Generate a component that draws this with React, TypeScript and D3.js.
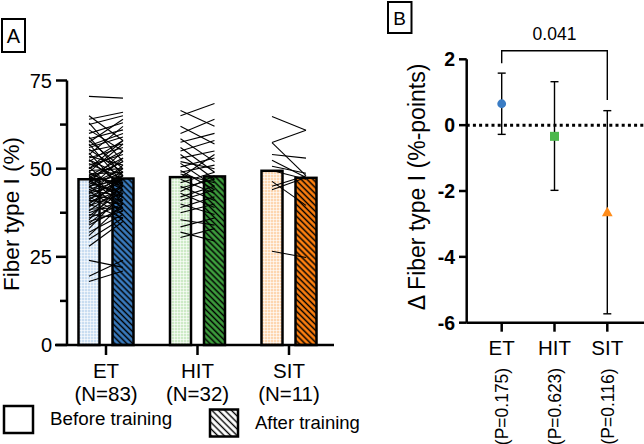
import React from "react";
import * as d3 from "d3";

// ---------- Data ----------
const groups = ["ET", "HIT", "SIT"];
const groupN = ["(N=83)", "(N=32)", "(N=11)"];
const pLabels = ["(P=0.175)", "(P=0.623)", "(P=0.116)"];
const beforeMeans = [47.0, 47.6, 49.4];
const afterMeans = [47.2, 47.8, 47.4];

const etBefore = [70.5, 65, 64, 63, 62.5, 61, 60, 59, 58.5, 58, 57.5, 57, 56, 55.5, 55, 54.5, 54, 53.5, 53, 52.5, 52, 51.5, 51, 50.5, 50, 49.5, 49, 49, 48.5, 48, 48, 47.5, 47, 47, 46.5, 46, 46, 45.5, 45, 45, 44.5, 44, 44, 43.5, 43, 43, 42.5, 42, 42, 41.5, 41, 41, 40.5, 40, 40, 39.5, 39, 38.5, 38, 37.5, 37, 36.5, 36, 35.5, 35, 34.5, 34, 33, 32, 31, 30, 28, 24, 19.5, 18, 56.5, 52.5, 50, 48.5, 47.5, 46.5, 45, 43.5];
const etAfter = [70, 58, 66, 52, 65, 55, 63, 48, 61, 50, 64, 46, 59, 49, 57, 44, 62, 51, 56, 45, 58, 47, 54, 42, 55, 50, 44, 57, 49, 41, 53, 46, 52, 40, 48, 55, 43, 50, 39, 47, 53, 42, 48, 38, 46, 51, 41, 47, 37, 45, 49, 40, 44, 36, 47, 43, 48, 39, 45, 41, 36, 44, 40, 46, 38, 42, 39, 43, 37, 40, 36, 35, 22, 24, 21, 60, 48, 58, 45, 52, 42, 49, 47];
const hitBefore = [66.5, 65, 62, 60, 58.5, 57.5, 56, 55, 54, 53, 52, 51.5, 50.5, 49.5, 49, 48.5, 47.5, 47, 46, 45, 44.5, 43.5, 43, 42, 41, 40, 39, 37.5, 35.5, 33.5, 32, 30.5];
const hitAfter = [62, 68.5, 57, 64, 52, 60, 49, 58, 47, 55, 50, 45, 53, 44, 51, 46, 54, 43, 49, 41, 47, 48, 39, 45, 44, 37, 42, 40, 34, 36, 29.5, 33];
const sitBefore = [64.8, 57.4, 57.4, 54, 52.4, 50.7, 49.5, 46.4, 45, 44, 26.6];
const sitAfter = [60.9, 60.9, 48, 53, 47.5, 48.7, 47, 39.6, 48, 47.5, 24.8];

const deltaMean = [0.65, -0.34, -2.67];
const deltaLow = [-0.28, -1.98, -5.73];
const deltaHigh = [1.58, 1.32, 0.44];
const pComparison = "0.041";

const yTicksA = [0, 12.5, 25, 37.5, 50, 62.5, 75];
const yTickLabelsA = [0, 25, 50, 75];
const yTicksB = [-6, -4, -2, 0, 2];

const lightColors = ["#c9ddf1", "#cdeac6", "#fdd6b0"];
const darkColors = ["#3a7cc0", "#3d9e3d", "#ff8010"];
const markerColors = ["#3a7cc4", "#4cb84c", "#ff8c1a"];

const FONT = "'Liberation Sans', Arial, sans-serif";

export default function App() {
  // Panel A scales
  const yA = d3.scaleLinear().domain([0, 75]).range([345, 80.5]);
  const xA = d3.scalePoint<string>().domain(groups).range([106, 289]);
  const off = 17;
  const bw = 21;
  const pairs = [
    [etBefore, etAfter],
    [hitBefore, hitAfter],
    [sitBefore, sitAfter],
  ];

  // Panel B scales
  const yB = d3.scaleLinear().domain([-6, 2]).range([322.7, 59.3]);
  const xB = d3.scalePoint<string>().domain(groups).range([501.7, 607.3]);

  const tri = d3.symbol().type(d3.symbolTriangle).size(50)();

  return (
    <svg width={644} height={444} style={{ position: "absolute", left: 0, top: 0, background: "#fff" }} fontFamily={FONT}>
      <defs>
        {groups.map((g, i) => (
          <pattern key={"b" + g} id={"before" + g} width={3} height={3} patternUnits="userSpaceOnUse">
            <rect width={3} height={3} fill={lightColors[i]} />
            <path d="M0,0.5H3M0.5,0V3" stroke="#fff" strokeWidth={0.8} strokeOpacity={0.75} />
          </pattern>
        ))}
        {groups.map((g, i) => (
          <pattern key={"a" + g} id={"after" + g} width={4.2} height={4.2} patternUnits="userSpaceOnUse" patternTransform="rotate(-45)">
            <rect width={4.2} height={4.2} fill={darkColors[i]} />
            <line x1={2.1} y1={0} x2={2.1} y2={4.2} stroke="#000" strokeWidth={1.5} />
          </pattern>
        ))}
        <pattern id="legendAfter" width={4.6} height={4.6} patternUnits="userSpaceOnUse" patternTransform="rotate(-45)">
          <rect width={4.6} height={4.6} fill="#fff" />
          <line x1={2.3} y1={0} x2={2.3} y2={4.6} stroke="#000" strokeWidth={1.4} />
        </pattern>
      </defs>

      {/* Panel labels */}
      <rect x={2} y={19} width={23} height={33} fill="none" stroke="#000" strokeWidth={2} />
      <text x={13.5} y={42.5} fontSize={20} textAnchor="middle">A</text>
      <rect x={388} y={2} width={23.5} height={31} fill="none" stroke="#000" strokeWidth={2} />
      <text x={399.7} y={25} fontSize={19} textAnchor="middle">B</text>

      {/* ---------- Panel A ---------- */}
      {groups.map((g, i) => {
        const cx = xA(g)!;
        return (
          <g key={"bars" + g}>
            <rect x={cx - off - bw / 2} y={yA(beforeMeans[i])} width={bw} height={yA(0) - yA(beforeMeans[i])} fill={`url(#before${g})`} stroke="#000" strokeWidth={2.5} />
            <rect x={cx + off - bw / 2} y={yA(afterMeans[i])} width={bw} height={yA(0) - yA(afterMeans[i])} fill={`url(#after${g})`} stroke="#000" strokeWidth={2.5} />
          </g>
        );
      })}
      {groups.map((g, i) => {
        const cx = xA(g)!;
        const [b, a] = pairs[i];
        return (
          <g key={"lines" + g}>
            {b.map((v, j) => (
              <line key={j} x1={cx - off} y1={yA(v)} x2={cx + off} y2={yA(a[j])} stroke="#000" strokeWidth={1.1} />
            ))}
          </g>
        );
      })}
      {/* Axes A */}
      <line x1={67} y1={yA(75)} x2={67} y2={yA(0)} stroke="#000" strokeWidth={2.5} />
      {yTicksA.map((t) => {
        const major = yTickLabelsA.includes(t);
        return <line key={t} x1={major ? 56 : 60} x2={67} y1={yA(t)} y2={yA(t)} stroke="#000" strokeWidth={2.5} />;
      })}
      {yTickLabelsA.map((t) => (
        <text key={t} x={52} y={yA(t)} dy="0.36em" fontSize={20} textAnchor="end">{t}</text>
      ))}
      <line x1={55} y1={yA(0)} x2={334} y2={yA(0)} stroke="#000" strokeWidth={2.5} />
      {groups.map((g, i) => (
        <g key={"xa" + g}>
          <line x1={xA(g)!} x2={xA(g)!} y1={yA(0)} y2={yA(0) + 10} stroke="#000" strokeWidth={2.5} />
          <text x={xA(g)!} y={377.5} fontSize={20.5} textAnchor="middle">{g}</text>
          <text x={xA(g)!} y={400.5} fontSize={20.5} textAnchor="middle">{groupN[i]}</text>
        </g>
      ))}
      <text transform="translate(18.5,214) rotate(-90)" fontSize={22.5} textAnchor="middle">Fiber type I (%)</text>

      {/* Legend */}
      <rect x={4} y={406} width={29} height={27} fill="#fff" stroke="#000" strokeWidth={2.5} />
      <text x={50} y={425} fontSize={18.8}>Before training</text>
      <rect x={210} y={409.5} width={28} height={27} fill="url(#legendAfter)" stroke="#000" strokeWidth={2.5} />
      <text x={255} y={429} fontSize={18.5}>After training</text>

      {/* ---------- Panel B ---------- */}
      <line x1={466.7} x2={644} y1={yB(0)} y2={yB(0)} stroke="#000" strokeWidth={3} strokeDasharray="3 3.2" />
      <line x1={466.7} y1={yB(2)} x2={466.7} y2={yB(-6)} stroke="#000" strokeWidth={2.5} />
      {yTicksB.map((t) => (
        <g key={t}>
          <line x1={459} x2={466.7} y1={yB(t)} y2={yB(t)} stroke="#000" strokeWidth={2.5} />
          <text x={455} y={yB(t)} dy="0.36em" fontSize={19.5} fontWeight="bold" textAnchor="end">{t === 0 ? "0" : t < 0 ? "-" + Math.abs(t) : String(t)}</text>
        </g>
      ))}
      <line x1={466.7} x2={644} y1={yB(-6)} y2={yB(-6)} stroke="#000" strokeWidth={2.5} />
      {groups.map((g, i) => (
        <g key={"xb" + g}>
          <line x1={xB(g)!} x2={xB(g)!} y1={yB(-6)} y2={yB(-6) + 9} stroke="#000" strokeWidth={2.5} />
          <text x={xB(g)!} y={354.5} fontSize={20.5} textAnchor="middle">{g}</text>
          <text transform={`translate(${xB(g)! + 6.5},406.5) rotate(-90)`} fontSize={17.5} textAnchor="middle">{pLabels[i]}</text>
        </g>
      ))}
      {groups.map((g, i) => {
        const cx = xB(g)!;
        return (
          <g key={"err" + g}>
            <line x1={cx} x2={cx} y1={yB(deltaHigh[i])} y2={yB(deltaLow[i])} stroke="#000" strokeWidth={1.4} />
            <line x1={cx - 4} x2={cx + 4} y1={yB(deltaHigh[i])} y2={yB(deltaHigh[i])} stroke="#000" strokeWidth={1.4} />
            <line x1={cx - 4} x2={cx + 4} y1={yB(deltaLow[i])} y2={yB(deltaLow[i])} stroke="#000" strokeWidth={1.4} />
          </g>
        );
      })}
      <circle cx={xB("ET")!} cy={yB(deltaMean[0])} r={4.4} fill={markerColors[0]} />
      <rect x={xB("HIT")! - 4.5} y={yB(deltaMean[1]) - 4.5} width={9} height={9} fill={markerColors[1]} />
      <path d={tri!} transform={`translate(${xB("SIT")!},${yB(deltaMean[2])})`} fill={markerColors[2]} />

      {/* Comparison bracket */}
      <path d={`M${xB("ET")!},63.3V50.7H${xB("SIT")!}V100`} fill="none" stroke="#000" strokeWidth={1.4} />
      <text x={(xB("ET")! + xB("SIT")!) / 2} y={39.5} fontSize={17.5} textAnchor="middle">{pComparison}</text>

      <text transform="translate(425,187) rotate(-90)" fontSize={23} textAnchor="middle">Δ Fiber type I (%-points)</text>
    </svg>
  );
}
